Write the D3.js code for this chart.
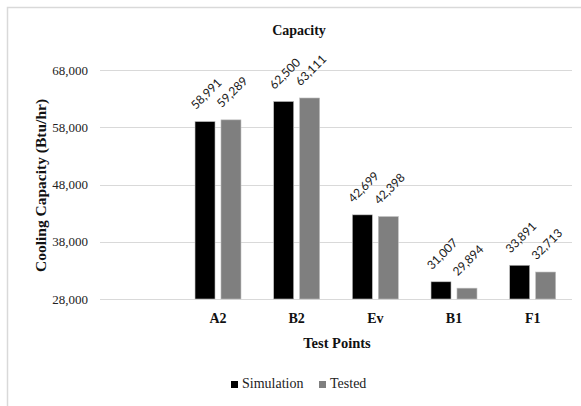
<!DOCTYPE html>
<html>
<head>
<meta charset="utf-8">
<script src="https://cdn.jsdelivr.net/npm/d3@7"></script>
<style>
  html, body { margin: 0; padding: 0; background: #fff; }
  svg { display: block; }
</style>
</head>
<body>
<svg id="chart" width="581" height="406"></svg>
<script>
// Test points (first slot is an empty category)
const categories = ["", "A2", "B2", "Ev", "B1", "F1"];
const seriesNames = ["Simulation", "Tested"];
const simulation = [null, 58991, 62500, 42699, 31007, 33891];
const tested = [null, 59289, 63111, 42398, 29894, 32713];
const yTicks = [28000, 38000, 48000, 58000, 68000];
const colors = ["#000000", "#7f7f7f"];

const svg = d3.select("#chart");
const W = 581, H = 406;
const margin = { left: 100, right: 9, top: 70, bottom: 107 };
const plotW = W - margin.left - margin.right;
const plotH = H - margin.top - margin.bottom;

const serif = "'Liberation Serif', 'DejaVu Serif', serif";
const sans = "Lato, 'Liberation Sans', sans-serif";

// Outer frame (left and top edges)
svg.append("path")
  .attr("d", `M7.5,${H} L7.5,7.5 L${W},7.5`)
  .attr("fill", "none").attr("stroke", "#d9d9d9").attr("stroke-width", 1.5);

const g = svg.append("g").attr("transform", `translate(${margin.left},${margin.top})`);

const x = d3.scaleBand().domain(categories).range([0, plotW]).paddingInner(0).paddingOuter(0);
const y = d3.scaleLinear().domain([28000, 68000]).range([plotH, 0]);
const xs = d3.scaleBand().domain(seriesNames).range([0, x.bandwidth()]).paddingInner(0.23).paddingOuter(0.63);

// Gridlines
g.append("g").selectAll("line").data(yTicks).join("line")
  .attr("x1", 0).attr("x2", plotW)
  .attr("y1", d => Math.round(y(d)) + 0.5).attr("y2", d => Math.round(y(d)) + 0.5)
  .attr("stroke", "#d9d9d9").attr("stroke-width", 1.2);

// Y axis tick labels
const yAxis = d3.axisLeft(y).tickValues(yTicks).tickSize(0).tickPadding(12)
  .tickFormat(d3.format(","));
g.append("g").call(yAxis)
  .call(s => s.select(".domain").remove())
  .selectAll("text")
  .attr("font-family", serif).attr("font-size", 13).attr("fill", "#222");

// Bars
const data = categories.map((c, i) => ({ cat: c, values: [simulation[i], tested[i]] }));
const groups = g.append("g").selectAll("g").data(data.filter(d => d.cat !== "")).join("g")
  .attr("transform", d => `translate(${x(d.cat)},0)`);

groups.selectAll("rect").data(d => d.values.map((v, j) => ({ v, s: seriesNames[j], j })))
  .join("rect")
  .attr("x", d => xs(d.s))
  .attr("width", xs.bandwidth())
  .attr("y", d => y(d.v))
  .attr("height", d => y(28000) - y(d.v))
  .attr("fill", d => colors[d.j])
  .attr("stroke", "#bfbfbf").attr("stroke-width", 0.6);

// Rotated value labels
groups.selectAll("text.val").data(d => d.values.map((v, j) => ({ v, s: seriesNames[j], j })))
  .join("text").attr("class", "val")
  .attr("transform", d => `translate(${xs(d.s) + xs.bandwidth() / 2 + 2},${y(d.v) - 27}) rotate(-45)`)
  .attr("text-anchor", "middle").attr("dominant-baseline", "middle")
  .attr("font-family", sans).attr("font-size", 12).attr("fill", "#1a1a1a")
  .text(d => d3.format(",")(d.v));

// X axis category labels
const xAxis = d3.axisBottom(x).tickSize(0).tickPadding(14);
g.append("g").attr("transform", `translate(0,${plotH})`).call(xAxis)
  .call(s => s.select(".domain").remove())
  .selectAll("text")
  .attr("font-family", serif).attr("font-size", 14).attr("font-weight", "bold").attr("fill", "#111");

// Title
svg.append("text").attr("x", 299).attr("y", 35).attr("text-anchor", "middle")
  .attr("font-family", serif).attr("font-size", 14).attr("font-weight", "bold").attr("fill", "#111")
  .text("Capacity");

// Axis titles
svg.append("text").attr("x", 337).attr("y", 348).attr("text-anchor", "middle")
  .attr("font-family", serif).attr("font-size", 14.5).attr("font-weight", "bold").attr("fill", "#111")
  .text("Test Points");

svg.append("text")
  .attr("transform", `translate(46,${margin.top + plotH / 2 + 1}) rotate(-90)`)
  .attr("text-anchor", "middle")
  .attr("font-family", serif).attr("font-size", 15.5).attr("font-weight", "bold").attr("fill", "#111")
  .text("Cooling Capacity (Btu/hr)");

// Legend
const legend = svg.append("g").attr("transform", "translate(231,385)");
const legendItems = [{ name: seriesNames[0], c: colors[0], dx: 0 }, { name: seriesNames[1], c: colors[1], dx: 88 }];
const li = legend.selectAll("g").data(legendItems).join("g").attr("transform", d => `translate(${d.dx},0)`);
li.append("rect").attr("x", 0).attr("y", -4).attr("width", 7).attr("height", 7).attr("fill", d => d.c);
li.append("text").attr("x", 11).attr("y", 0).attr("dominant-baseline", "middle")
  .attr("font-family", serif).attr("font-size", 14).attr("fill", "#222")
  .text(d => d.name);
</script>
</body>
</html>
